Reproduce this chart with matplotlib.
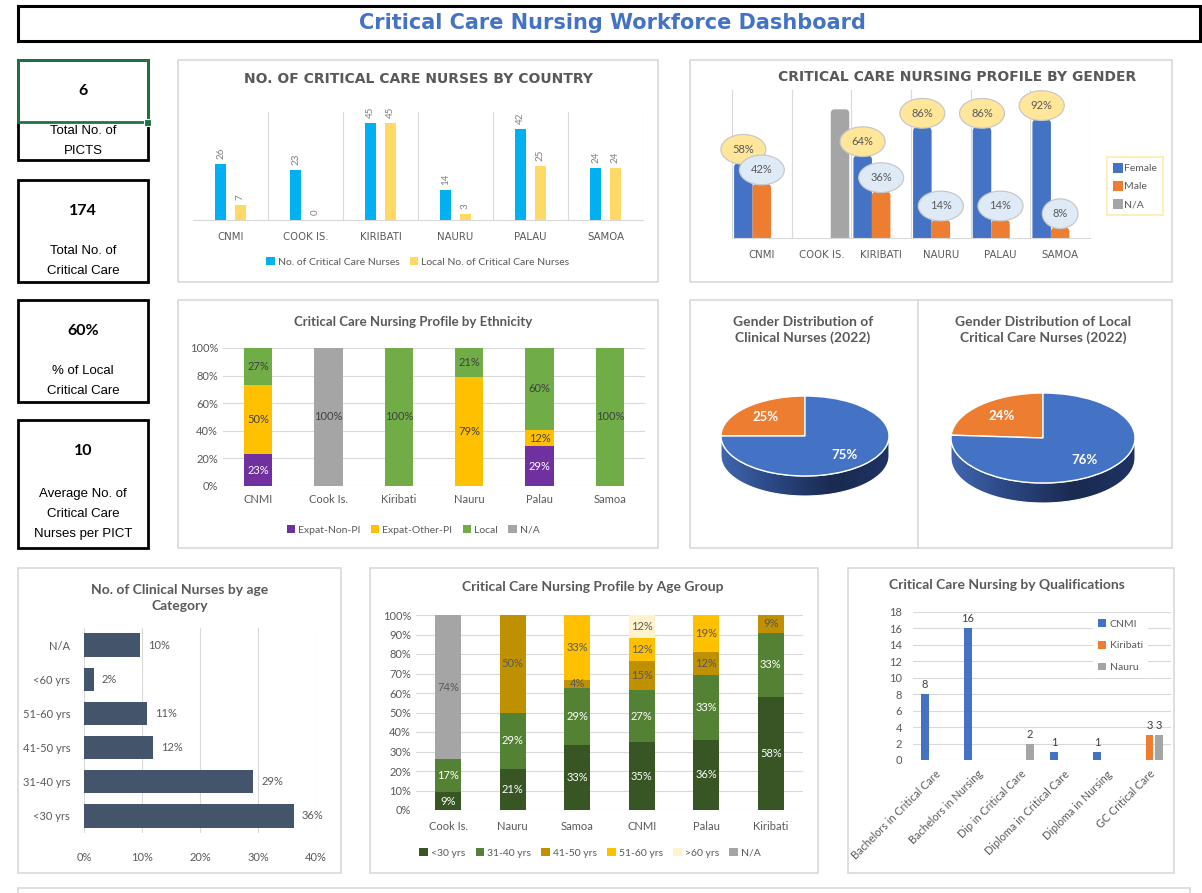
import numpy as np
import matplotlib.pyplot as plt
from matplotlib.patches import Rectangle, FancyBboxPatch, Polygon
from matplotlib.transforms import Affine2D
from matplotlib.colors import LinearSegmentedColormap

W, H = 1202, 893

# ---- data ----
kpi_values = ['6', '174', '60%', '10']
kpi_labels = ['Total No. of\nPICTS', 'Total No. of\nCritical Care',
              '% of Local\nCritical Care', 'Average No. of\nCritical Care\nNurses per PICT']

countries = ['CNMI', 'Cook Is.', 'Kiribati', 'Nauru', 'Palau', 'Samoa']
cc_nurses = [26, 23, 45, 14, 42, 24]
local_cc_nurses = [7, 0, 45, 3, 25, 24]

gender_female = [58, 0, 64, 86, 86, 92]
gender_male = [42, 0, 36, 14, 14, 8]
gender_na = [0, 100, 0, 0, 0, 0]

eth_non_pi = [23, 0, 0, 0, 29, 0]
eth_other_pi = [50, 0, 0, 79, 12, 0]
eth_local = [27, 0, 100, 21, 60, 100]
eth_na = [0, 100, 0, 0, 0, 0]

pie_labels = ['Male', 'Female']
pie_clinical = [25, 75]
pie_local_cc = [24, 76]

age_cats = ['<30 yrs', '31-40 yrs', '41-50 yrs', '51-60 yrs', '<60 yrs', 'N/A']
age_share = [36.2, 29.2, 11.9, 10.8, 1.7, 9.7]

age_countries = ['Cook Is.', 'Nauru', 'Samoa', 'CNMI', 'Palau', 'Kiribati']
age_groups = ['<30 yrs', '31-40 yrs', '41-50 yrs', '51-60 yrs', '>60 yrs', 'N/A']
age_lt30 = [9, 21, 33, 35, 36, 58]
age_31_40 = [17, 29, 29, 27, 33, 33]
age_41_50 = [0, 50, 4, 15, 12, 9]
age_51_60 = [0, 0, 33, 12, 19, 0]
age_gt60 = [0, 0, 0, 12, 0, 0]
age_na = [74, 0, 0, 0, 0, 0]

quals = ['Bachelors in Critical Care', 'Bachelors in Nursing', 'Dip in Critical Care',
         'Diploma in Critical Care', 'Diploma in Nursing', 'GC Critical Care']
qual_cnmi = [8, 16, 0, 1, 1, 0]
qual_kiribati = [0, 0, 0, 0, 0, 3]
qual_nauru = [0, 0, 2, 0, 0, 3]

GRAY = '#595959'
GRID = '#D9D9D9'
plt.rcParams['font.family'] = ['Lato', 'DejaVu Sans']


def rect(x0, y0, x1, y1):
    return [x0 / W, 1 - y1 / H, (x1 - x0) / W, (y1 - y0) / H]


def fpt(x, y):
    return (x / W, 1 - y / H)


def clean(ax, bottom=True):
    ax.set_facecolor('none')
    for s in ax.spines.values():
        s.set_visible(False)
    if bottom:
        ax.spines['bottom'].set_visible(True)
        ax.spines['bottom'].set_color(GRID)
    ax.tick_params(length=0, colors=GRAY, labelsize=8)


def legend(ax, handles, labels, x, y, ncol, fs=7.5, **kw):
    return ax.legend(handles, labels, loc='center', bbox_to_anchor=fpt(x, y),
                     bbox_transform=fig.transFigure, ncol=ncol, frameon=False,
                     fontsize=fs, labelcolor=GRAY, handlelength=0.8, handleheight=0.8,
                     handletextpad=0.3, columnspacing=1.0, **kw)


fig = plt.figure(figsize=(W / 100, H / 100), dpi=100)
bg = fig.add_axes([0, 0, 1, 1])
bg.set_xlim(0, W)
bg.set_ylim(H, 0)
bg.axis('off')


def panel(x0, y0, x1, y1, ec='#D9D9D9', lw=1.2):
    bg.add_patch(Rectangle((x0, y0), x1 - x0, y1 - y0, fc='white', ec=ec, lw=lw))


# title bar
bg.add_patch(Rectangle((18, 6), 1200 - 18, 35, fc='white', ec='black', lw=2.2))
bg.text(612, 23, 'Critical Care Nursing Workforce Dashboard', ha='center', va='center',
        fontsize=15, fontweight='bold', color='#4472C4', family='DejaVu Sans')

# KPI boxes
kpi_boxes = [(60, 160), (180, 282), (300, 402), (420, 548)]
for (y0, y1), val, lab in zip(kpi_boxes, kpi_values, kpi_labels):
    bg.add_patch(Rectangle((18, y0), 130, y1 - y0, fc='white', ec='black', lw=2))
    bg.text(83, y0 + 31, val, ha='center', va='center', fontsize=11.5, fontweight='bold',
            color='black')
    lines = lab.split('\n')
    ly = y0 + 71 if len(lines) == 2 else y0 + 74
    for i, line in enumerate(lines):
        bg.text(83, ly + i * 20, line, ha='center', va='center',
                fontsize=9.5, family='Liberation Sans', color='black')
bg.add_patch(Rectangle((18, 60), 130, 62, fc='none', ec='#217346', lw=2))
bg.add_patch(Rectangle((144, 119), 7, 7, fc='#217346', ec='white', lw=0.8))

# panels
panel(178, 60, 658, 282)
panel(690, 60, 1172, 282)
panel(178, 300, 658, 548)
panel(690, 300, 1172, 548)
bg.plot([918, 918], [300, 548], color='#D9D9D9', lw=1.2)
panel(18, 568, 341, 873)
panel(370, 568, 818, 873)
panel(848, 568, 1174, 873)
panel(18, 888, 1190, 905)

# ---- chart 1: nurses by country ----
ax = fig.add_axes(rect(193, 112, 643, 220))
clean(ax)
x = np.arange(len(countries))
b1 = ax.bar(x - 0.13, cc_nurses, 0.15, color='#00B0F0')
b2 = ax.bar(x + 0.13, local_cc_nurses, 0.15, color='#FFD966')
for bars, vals in ((b1, cc_nurses), (b2, local_cc_nurses)):
    for r, v in zip(bars, vals):
        ax.annotate(str(v), (r.get_x() + r.get_width() / 2, v), xytext=(0, 5),
                    textcoords='offset pixels', rotation=90, ha='center', va='bottom',
                    fontsize=7, color='#7F7F7F')
for xv in np.arange(0.5, 6, 1):
    ax.axvline(xv, color=GRID, lw=0.8)
ax.set_xlim(-0.5, 5.5)
ax.set_ylim(0, 50)
ax.set_yticks([])
ax.set_xticks(x)
ax.set_xticklabels([c.upper() for c in countries], family='DejaVu Sans', fontsize=7.3)
ax.tick_params(axis='x', pad=9)
bg.text(418, 79, 'NO. OF CRITICAL CARE NURSES BY COUNTRY', ha='center', va='center',
        fontsize=10, fontweight='bold', color=GRAY, family='DejaVu Sans')
legend(ax, [b1, b2], ['No. of Critical Care Nurses', 'Local No. of Critical Care Nurses'],
       418, 262, 2, fs=7.5)

# ---- chart 2: gender profile ----
ax = fig.add_axes(rect(732, 90, 1090, 238))
clean(ax)
ymax2 = 115
ax.set_xlim(-0.5, 5.5)
ax.set_ylim(0, ymax2)
bw = 0.31
gcolors = ['#4472C4', '#ED7D31', '#A5A5A5']
bf = ax.bar(x - bw, gender_female, bw, color=gcolors[0])
bm = ax.bar(x, gender_male, bw, color=gcolors[1])
bn = ax.bar(x + bw, gender_na, bw, color=gcolors[2])
dx_px = 6 / 358
dy_px = ymax2 / 148
for bars in (bf, bm, bn):
    for r in bars:
        h = r.get_height()
        if h <= 0:
            continue
        r.set_visible(False)
        ax.add_patch(FancyBboxPatch((r.get_x(), -6), r.get_width(), h + 6,
                                    boxstyle='round,pad=0,rounding_size=%f' % (4 * dx_px),
                                    mutation_aspect=dy_px / dx_px, fc=r.get_facecolor(),
                                    ec='none', clip_on=True))
for bars, vals, fc, z in ((bf, gender_female, '#FFE699', 5), (bm, gender_male, '#DEEBF7', 6)):
    for r, v in zip(bars, vals):
        if v <= 0:
            continue
        ax.annotate('%d%%' % v, (r.get_x() + r.get_width() / 2, v), xytext=(0, 14),
                    textcoords='offset pixels', ha='center', va='center', fontsize=8,
                    color=GRAY, zorder=z, annotation_clip=False,
                    bbox=dict(boxstyle='ellipse,pad=0.45', fc=fc, ec='#C8C8C8', lw=0.9))
for xv in np.arange(-0.5, 6, 1):
    ax.axvline(xv, color=GRID, lw=0.8, zorder=0)
ax.set_yticks([])
ax.set_xticks(x)
ax.set_xticklabels([c.upper() for c in countries], family='DejaVu Sans', fontsize=7.3)
ax.tick_params(axis='x', pad=9)
bg.text(957, 77, 'CRITICAL CARE NURSING PROFILE BY GENDER', ha='center', va='center',
        fontsize=10, fontweight='bold', color=GRAY, family='DejaVu Sans')
proxies = [Rectangle((0, 0), 1, 1, fc=c, ec='none') for c in gcolors]
lg = ax.legend(proxies, ['Female', 'Male', 'N/A'], loc='center',
               bbox_to_anchor=fpt(1135, 186), bbox_transform=fig.transFigure,
               fontsize=7.5, labelcolor=GRAY, handlelength=1.0, handleheight=1.1,
               handletextpad=0.1, labelspacing=0.7, borderpad=0.6, fancybox=False,
               edgecolor='#FFE699')
lg.get_frame().set_linewidth(1.2)

# ---- chart 3: ethnicity ----
ax = fig.add_axes(rect(223, 348, 645, 486))
clean(ax, bottom=False)
eth_series = [eth_non_pi, eth_other_pi, eth_local, eth_na]
eth_names = ['Expat-Non-PI', 'Expat-Other-PI', 'Local', 'N/A']
eth_colors = ['#7030A0', '#FFC000', '#70AD47', '#A5A5A5']
eth_text = ['white', '#404040', '#404040', '#404040']
tot = np.sum(eth_series, axis=0)
bottom = np.zeros(len(countries))
handles = []
for vals, c, tc in zip(eth_series, eth_colors, eth_text):
    share = np.array(vals) / tot * 100
    b = ax.bar(x, share, 0.4, bottom=bottom, color=c, zorder=2)
    handles.append(b)
    for xi, v, s, bt in zip(x, vals, share, bottom):
        if v > 0:
            ax.text(xi, bt + s / 2, '%d%%' % v, ha='center', va='center', fontsize=8,
                    color=tc, zorder=3)
    bottom += share
ax.set_xlim(-0.5, 5.5)
ax.set_ylim(0, 100)
ax.set_yticks(np.arange(0, 101, 20))
ax.set_yticklabels(['%d%%' % v for v in np.arange(0, 101, 20)])
ax.yaxis.grid(True, color=GRID, lw=0.8, zorder=0)
ax.set_axisbelow(True)
ax.set_xticks(x)
ax.set_xticklabels(countries)
ax.tick_params(axis='x', pad=6)
bg.text(413, 322, 'Critical Care Nursing Profile by Ethnicity', ha='center', va='center',
        fontsize=9.5, fontweight='bold', color=GRAY)
legend(ax, handles, eth_names, 413, 530, 4)

# ---- chart 4: 3D pies ----
side_cmap = LinearSegmentedColormap.from_list('side', ['#4066AE', '#2A4580', '#1A2A50', '#1F3363'])


def pie3d(cx, cy, rx, ry, depth, values, title, tx):
    pad = 12
    ax = fig.add_axes(rect(cx - rx - pad, cy - ry - pad, cx + rx + pad, cy + ry + depth + pad))
    t = np.linspace(np.pi, 2 * np.pi, 120)
    top = np.column_stack([rx * np.cos(t), ry * np.sin(t)])
    poly = Polygon(np.vstack([top, top[::-1] - [0, depth]]), closed=True,
                   fc='none', ec='white', lw=0.8, zorder=2)
    ax.add_patch(poly)
    im = ax.imshow(np.linspace(0, 1, 256).reshape(1, -1), cmap=side_cmap, aspect='auto',
                   extent=(-rx, rx, -ry - depth, 0), zorder=1)
    im.set_clip_path(poly)
    wedges, _, autos = ax.pie(values, radius=rx, startangle=90, counterclock=True,
                              colors=['#ED7D31', '#4472C4'], autopct='%d%%', pctdistance=0.66,
                              wedgeprops=dict(ec='white', lw=1.0),
                              textprops=dict(color='white', fontweight='bold', fontsize=9.5))
    squash = Affine2D().scale(1, ry / rx) + ax.transData
    for w in wedges:
        w.set_transform(squash)
        w.set_zorder(3)
    for a in autos:
        a.set_transform(squash)
        a.set_zorder(4)
    ax.set_aspect('auto')
    ax.set_xlim(-rx - pad, rx + pad)
    ax.set_ylim(-ry - depth - pad, ry + pad)
    ax.axis('off')
    bg.text(tx, 330, title, ha='center', va='center', fontsize=10, fontweight='bold',
            color=GRAY, linespacing=1.25)


pie3d(805, 436, 84, 40, 20, pie_clinical, 'Gender Distribution of\nClinical Nurses (2022)', 803)
pie3d(1043, 438, 92, 45, 20, pie_local_cc,
      'Gender Distribution of Local\nCritical Care Nurses (2022)', 1043)

# ---- chart 5: clinical nurses by age ----
ax = fig.add_axes(rect(84, 628, 316, 833))
clean(ax, bottom=False)
y = np.arange(len(age_cats))
bars = ax.barh(y, age_share, 0.68, color='#44546A', zorder=2)
for r, v in zip(bars, age_share):
    ax.annotate('%d%%' % round(v), (v, r.get_y() + r.get_height() / 2), xytext=(8, 0),
                textcoords='offset pixels', ha='left', va='center', fontsize=8, color=GRAY)
ax.set_xlim(0, 40)
ax.set_ylim(-0.5, 5.5)
ax.set_xticks(np.arange(0, 41, 10))
ax.set_xticklabels(['%d%%' % v for v in np.arange(0, 41, 10)])
ax.xaxis.grid(True, color=GRID, lw=0.8, zorder=0)
ax.set_axisbelow(True)
ax.set_yticks(y)
ax.set_yticklabels(age_cats)
ax.tick_params(axis='x', pad=14)
ax.tick_params(axis='y', pad=10)
bg.text(180, 598, 'No. of Clinical Nurses by age\nCategory', ha='center', va='center',
        fontsize=10, fontweight='bold', color=GRAY, linespacing=1.3)

# ---- chart 6: age group profile ----
ax = fig.add_axes(rect(416, 615, 803, 810))
clean(ax, bottom=False)
age_series = [age_lt30, age_31_40, age_41_50, age_51_60, age_gt60, age_na]
age_colors = ['#375623', '#548235', '#BF9000', '#FFC000', '#FFF2CC', '#A5A5A5']
age_text = ['white', 'white', GRAY, GRAY, GRAY, GRAY]
x6 = np.arange(len(age_countries))
tot = np.sum(age_series, axis=0)
bottom = np.zeros(len(age_countries))
handles = []
for vals, c, tc in zip(age_series, age_colors, age_text):
    share = np.array(vals) / tot * 100
    b = ax.bar(x6, share, 0.4, bottom=bottom, color=c, zorder=2)
    handles.append(b)
    for xi, v, s, bt in zip(x6, vals, share, bottom):
        if v > 0:
            ax.text(xi, bt + s / 2, '%d%%' % v, ha='center', va='center', fontsize=8,
                    color=tc, zorder=3)
    bottom += share
ax.set_xlim(-0.5, 5.5)
ax.set_ylim(0, 100)
ax.set_yticks(np.arange(0, 101, 10))
ax.set_yticklabels(['%d%%' % v for v in np.arange(0, 101, 10)])
ax.yaxis.grid(True, color=GRID, lw=0.8, zorder=0)
ax.set_axisbelow(True)
ax.set_xticks(x6)
ax.set_xticklabels(age_countries)
ax.tick_params(axis='x', pad=8)
bg.text(593, 587, 'Critical Care Nursing Profile by Age Group', ha='center', va='center',
        fontsize=10, fontweight='bold', color=GRAY)
legend(ax, handles, age_groups, 590, 853, 6, fs=7.5)

# ---- chart 7: qualifications ----
ax = fig.add_axes(rect(913, 612, 1171, 760))
clean(ax, bottom=False)
xq = np.arange(len(quals))
handles = []
for off, vals, c in ((-0.22, qual_cnmi, '#4472C4'), (0, qual_kiribati, '#ED7D31'),
                     (0.22, qual_nauru, '#A5A5A5')):
    b = ax.bar(xq + off, vals, 0.17, color=c, zorder=2)
    handles.append(b)
    for r, v in zip(b, vals):
        if v > 0:
            ax.annotate(str(v), (r.get_x() + r.get_width() / 2, v), xytext=(0, 4),
                        textcoords='offset pixels', ha='center', va='bottom', fontsize=8,
                        color='#404040')
ax.set_xlim(-0.5, 5.5)
ax.set_ylim(0, 18)
ax.set_yticks(np.arange(0, 19, 2))
ax.yaxis.grid(True, color=GRID, lw=0.8, zorder=0)
ax.set_axisbelow(True)
ax.set_xticks(xq)
ax.set_xticklabels(quals, rotation=45, ha='right', rotation_mode='anchor', fontsize=7.8)
ax.tick_params(axis='x', pad=6)
ax.tick_params(axis='y', pad=8)
ax.legend(handles, ['CNMI', 'Kiribati', 'Nauru'], loc='upper left',
          bbox_to_anchor=fpt(1088, 609), bbox_transform=fig.transFigure,
          fontsize=7.5, labelcolor=GRAY, handlelength=0.7, handleheight=0.7,
          handletextpad=0.4, labelspacing=1.2, fancybox=False, framealpha=1,
          edgecolor='none', facecolor='white', borderpad=0.5)
bg.text(1007, 585, 'Critical Care Nursing by Qualifications', ha='center', va='center',
        fontsize=10, fontweight='bold', color=GRAY)

fig.savefig('out.png', dpi=100)
